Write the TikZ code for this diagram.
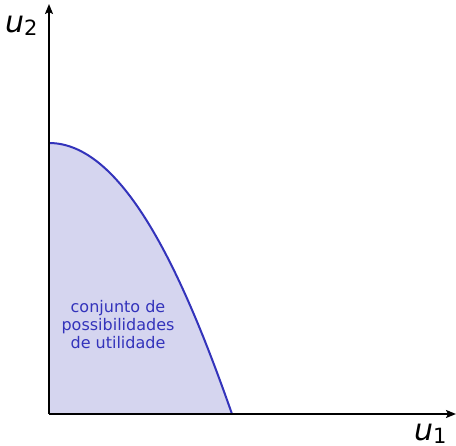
\documentclass[tikz,border=0pt]{standalone}
\usepackage{fontspec}
\setmainfont{DejaVu Sans}
\usetikzlibrary{arrows.meta}

\definecolor{setline}{RGB}{51,51,187}
\definecolor{setfill}{RGB}{213,213,239}

\newcommand{\axlabel}[2]{{\fontsize{30}{32}\selectfont\itshape #1}\raisebox{-3pt}{\fontsize{21}{23}\selectfont #2}}

\begin{document}
\begin{tikzpicture}[
    x=1pt, y=-1pt,
    >={Stealth[length=10pt, width=8pt, inset=2pt]},
    axisline/.style={line width=1.8pt, black},
    frontier/.style={line width=2pt, setline},
    settext/.style={text=setline, align=center, font=\fontsize{16}{18}\selectfont, inner sep=0pt},
    axislabel/.style={anchor=base west, inner sep=0pt},
]
\useasboundingbox (0,0) rectangle (456,446);

\coordinate (origin) at (49,414);
\coordinate (ytop) at (49,4);
\coordinate (xright) at (456,414);
\coordinate (peak) at (49,143);
\coordinate (foot) at (232,414);

% utility possibility set
\fill[setfill] (origin) -- (peak) .. controls (125,143) and (185,280) .. (foot) -- cycle;
\draw[frontier] (peak) .. controls (125,143) and (185,280) .. (foot);

\node[settext] (setname) at (118,325) {conjunto de\\possibilidades\\de utilidade};

% axes
\draw[axisline, ->] (origin) -- (ytop);
\draw[axisline, ->] (origin) -- (xright);

\node[axislabel] (ulabeltwo) at (5,33) {\axlabel{u}{2}};
\node[axislabel] (ulabelone) at (414,441) {\axlabel{u}{1}};

\end{tikzpicture}
\end{document}
